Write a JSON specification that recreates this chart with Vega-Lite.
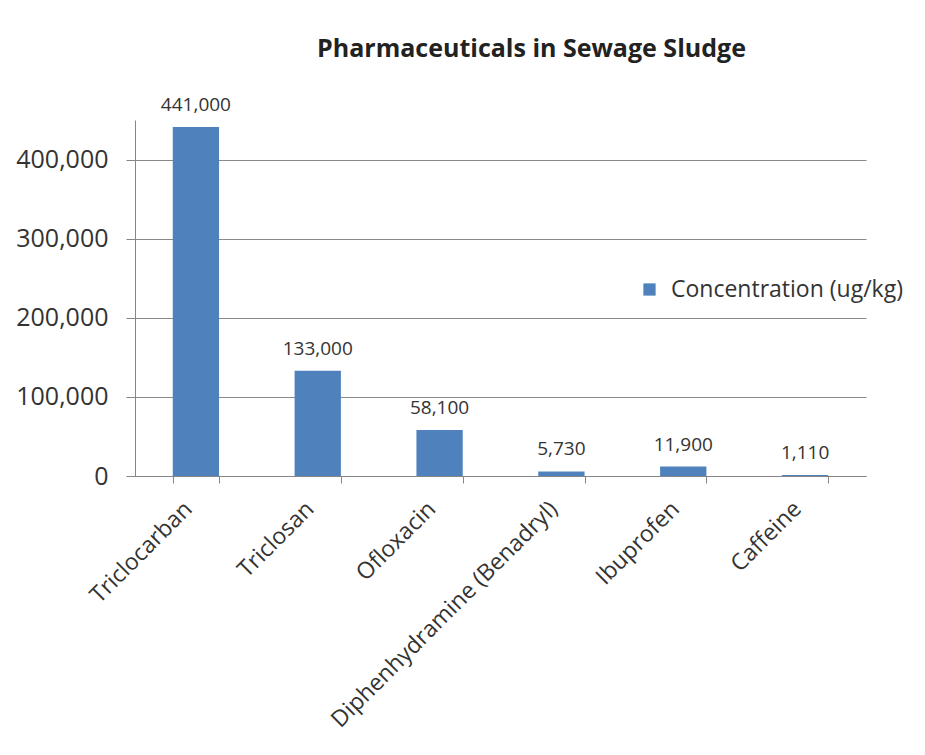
{
  "$schema": "https://vega.github.io/schema/vega-lite/v6.json",
  "width": 731,
  "height": 356,
  "autosize": {"type": "none"},
  "padding": {"left": 135, "top": 120, "right": 59, "bottom": 279},
  "background": "white",
  "title": {
    "text": "Pharmaceuticals in Sewage Sludge",
    "font": "Open Sans",
    "fontSize": 25,
    "fontWeight": "bold",
    "color": "#222222",
    "anchor": "middle",
    "dx": 31,
    "offset": 34
  },
  "data": {
    "values": [
      {"drug": "Triclocarban", "conc": 441000},
      {"drug": "Triclosan", "conc": 133000},
      {"drug": "Ofloxacin", "conc": 58100},
      {"drug": "Diphenhydramine (Benadryl)", "conc": 5730},
      {"drug": "Ibuprofen", "conc": 11900},
      {"drug": "Caffeine", "conc": 1110}
    ]
  },
  "encoding": {
    "x": {
      "field": "drug",
      "type": "nominal",
      "sort": null,
      "title": null,
      "scale": {"paddingInner": 0.62, "paddingOuter": 0.31},
      "axis": {
        "labelAngle": -45,
        "labelAlign": "right",
        "labelBaseline": "middle",
        "labelFont": "Open Sans",
        "labelFontSize": 23,
        "labelColor": "#333333",
        "labelPadding": 22,
        "labelOffset": -8,
        "labelLimit": 500,
        "tickBand": "extent",
        "tickSize": 7,
        "tickColor": "#868686",
        "domainColor": "#868686",
        "grid": false
      }
    },
    "y": {
      "field": "conc",
      "type": "quantitative",
      "title": null,
      "scale": {"domain": [0, 450000], "nice": false},
      "axis": {
        "values": [0, 100000, 200000, 300000, 400000],
        "labelExpr": "format(datum.value, ',')",
        "labelFont": "Open Sans",
        "labelFontSize": 25,
        "labelColor": "#333333",
        "labelPadding": 18,
        "labelLimit": 300,
        "tickSize": 9,
        "tickColor": "#868686",
        "domainColor": "#868686",
        "grid": true,
        "gridColor": "#8a8a8a"
      }
    }
  },
  "layer": [
    {
      "mark": {"type": "bar", "color": "#4F81BD"},
      "encoding": {
        "color": {
          "datum": "Concentration (ug/kg)",
          "scale": {"range": ["#4F81BD"]},
          "legend": {
            "title": null,
            "orient": "none",
            "legendX": 503,
            "legendY": 158,
            "symbolType": "square",
            "symbolSize": 150,
            "symbolStrokeWidth": 0,
            "labelFont": "Open Sans",
            "labelFontSize": 23,
            "labelColor": "#333333",
            "labelOffset": 10,
            "labelLimit": 400
          }
        }
      }
    },
    {
      "mark": {
        "type": "text",
        "baseline": "bottom",
        "dy": -12,
        "font": "Open Sans",
        "fontSize": 19,
        "color": "#333333"
      },
      "encoding": {
        "text": {"field": "conc", "type": "quantitative", "format": ","}
      }
    }
  ],
  "config": {"view": {"stroke": null}}
}
